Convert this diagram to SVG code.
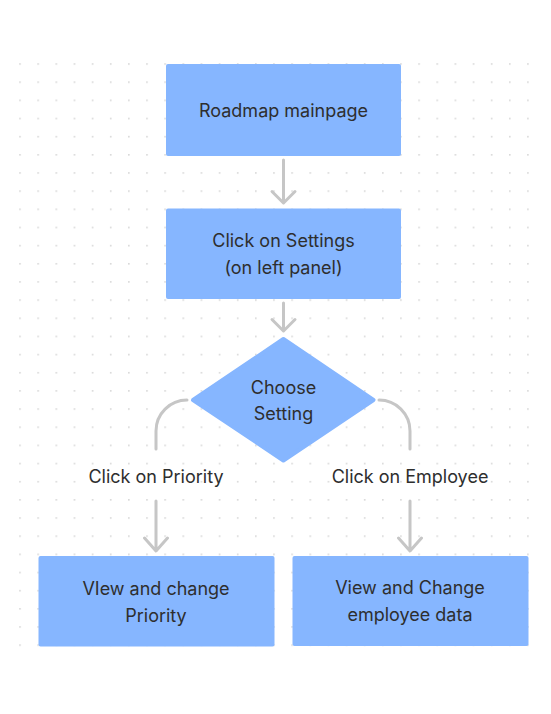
<svg xmlns="http://www.w3.org/2000/svg" width="551" height="714" viewBox="0 0 551 714">
<defs>
<pattern id="dots" x="19.2" y="63.2" width="18.14" height="18.16" patternUnits="userSpaceOnUse">
<rect x="0" y="0" width="1.6" height="1.6" fill="#d8d8d8"/>
</pattern>
<style>
.node{fill:#86b6ff;}
.t{font-family:Inter,"Noto Sans","Liberation Sans",sans-serif;font-size:18px;fill:#2e2e2e;text-anchor:middle;}
.c{fill:none;stroke:#c6c6c6;stroke-width:3;stroke-linecap:round;stroke-linejoin:round;}
</style>
</defs>
<rect width="551" height="714" fill="#ffffff"/>
<rect x="18" y="62" width="513" height="586" fill="url(#dots)"/>
<g id="connectors">
<path class="c" d="M283.5 160 V202 M272 191.5 L283.5 203 L295 191.5"/>
<path class="c" d="M283.5 303 V330 M272 319.5 L283.5 331 L295 319.5"/>
<path class="c" d="M187 400 A31 31 0 0 0 156 431 V449"/>
<path class="c" d="M156 501 V550 M144.5 538 L156 551 L167.5 538"/>
<path class="c" d="M379 400 A31 31 0 0 1 410 431 V449"/>
<path class="c" d="M410 501 V550 M398.5 538 L410 551 L421.5 538"/>
</g>
<g id="n1">
<rect class="node" x="166" y="64" width="235" height="92" rx="2"/>
<text class="t" x="283.5" y="117">Roadmap mainpage</text>
</g>
<g id="n2">
<rect class="node" x="166" y="208.5" width="235" height="90.5" rx="2"/>
<text class="t" x="283.5" y="247">Click on Settings</text>
<text class="t" x="283.5" y="274">(on left panel)</text>
</g>
<g id="n3">
<polygon class="node" points="283.4,339 373.5,400 283.4,460.5 193,400" stroke="#86b6ff" stroke-width="4" stroke-linejoin="round"/>
<text class="t" x="283.5" y="393.5">Choose</text>
<text class="t" x="283.5" y="420">Setting</text>
</g>
<g id="l1">
<text class="t" x="156" y="482.5">Click on Priority</text>
</g>
<g id="l2">
<text class="t" x="410" y="482.5">Click on Employee</text>
</g>
<g id="n4">
<rect class="node" x="38.5" y="556" width="236" height="90.5" rx="2"/>
<text class="t" x="156" y="595">VIew and change</text>
<text class="t" x="156" y="621.5">Priority</text>
</g>
<g id="n5">
<rect class="node" x="292.5" y="556" width="236" height="90" rx="2"/>
<text class="t" x="410" y="594">View and Change</text>
<text class="t" x="410" y="620.5">employee data</text>
</g>
</svg>
